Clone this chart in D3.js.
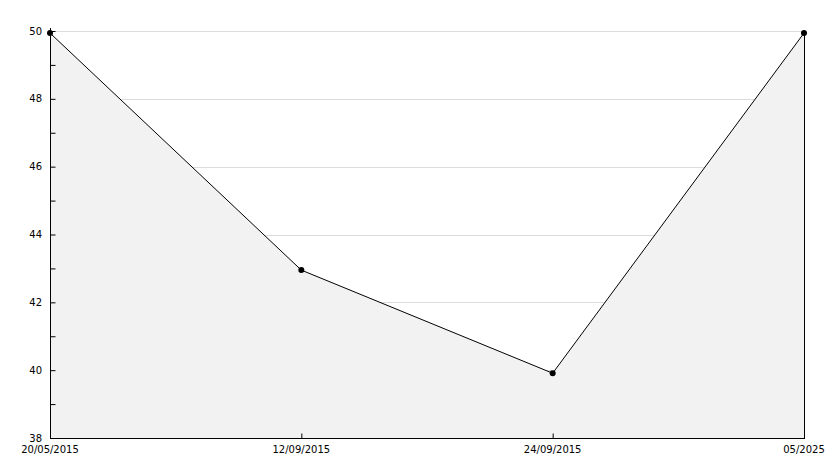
<!DOCTYPE html>
<html><head><meta charset="utf-8">
<script src="https://cdn.jsdelivr.net/npm/d3@7"></script>
<style>body{margin:0;background:#fff}svg{display:block}</style>
</head><body>
<svg id="c" width="834" height="468"></svg>
<script>
const categories = ["20/05/2015", "12/09/2015", "24/09/2015", "05/2025"];
const values = [49.94, 42.95, 39.91, 49.94];
const yTicks = [38, 40, 42, 44, 46, 48, 50];
const yMinorTicks = [39, 41, 43, 45, 47, 49];

(function () {
const svg = d3.select("#c");
const mL = 50, mR = 804, mT = 31, mB = 438;
const x = d3.scalePoint().domain(categories).range([mL, mR]);
const y = d3.scaleLinear().domain([38, 50]).range([mB, mT]);
const font = "DejaVu Sans, sans-serif";

// grid
svg.append("g").selectAll("line").data(yTicks.filter(d => d > 38)).join("line")
  .attr("x1", mL).attr("x2", mR)
  .attr("y1", d => Math.round(y(d)) + 0.5).attr("y2", d => Math.round(y(d)) + 0.5)
  .attr("stroke", "#dcdcdc").attr("stroke-width", 1);

const pts = categories.map((c, i) => [x(c), y(values[i])]);

// area
const area = d3.area().x(d => d[0]).y0(mB).y1(d => d[1]);
svg.append("path").datum(pts).attr("d", area).attr("fill", "#f2f2f2");
// right edge
svg.append("line").attr("x1", mR + 0.5).attr("x2", mR + 0.5)
  .attr("y1", y(values[values.length - 1])).attr("y2", mB)
  .attr("stroke", "#000").attr("stroke-width", 1);

// line
svg.append("path").datum(pts).attr("d", d3.line())
  .attr("fill", "none").attr("stroke", "#000").attr("stroke-width", 1);

// axes
const yAxis = d3.axisRight(y).tickValues(yTicks).tickSize(5).tickFormat("");
const ga = svg.append("g").attr("transform", `translate(${mL + 0.5},0)`).call(yAxis);
ga.select(".domain").attr("d", `M0,${mT - 3}V${mB}`).attr("stroke", "#000");
ga.selectAll(".tick line").attr("stroke", "#000");
const gm = svg.append("g").attr("transform", `translate(${mL + 0.5},0)`)
  .call(d3.axisRight(y).tickValues(yMinorTicks).tickSize(5).tickFormat(""));
gm.select(".domain").remove();
gm.selectAll(".tick line").attr("stroke", "#000");

svg.append("g").selectAll("text").data(yTicks).join("text")
  .attr("x", mL - 8).attr("y", d => y(d)).attr("dy", "0.35em")
  .attr("text-anchor", "end").attr("font-family", font).attr("font-size", 10)
  .attr("fill", "#000").text(d => d);

const xAxis = d3.axisTop(x).tickSize(5).tickFormat("");
const gx = svg.append("g").attr("transform", `translate(0,${mB + 0.5})`).call(xAxis);
gx.select(".domain").attr("d", `M${mL},0H${mR + 1}`).attr("stroke", "#000");
gx.selectAll(".tick line").attr("stroke", "#000");

svg.append("g").selectAll("text").data(categories).join("text")
  .attr("x", d => x(d)).attr("y", mB + 11).attr("dy", "0.35em")
  .attr("text-anchor", "middle").attr("font-family", font).attr("font-size", 10)
  .attr("fill", "#000").text(d => d);

// markers
svg.append("g").selectAll("circle").data(pts).join("circle")
  .attr("cx", d => d[0]).attr("cy", d => d[1]).attr("r", 3).attr("fill", "#000");
})();
</script>
</body></html>
